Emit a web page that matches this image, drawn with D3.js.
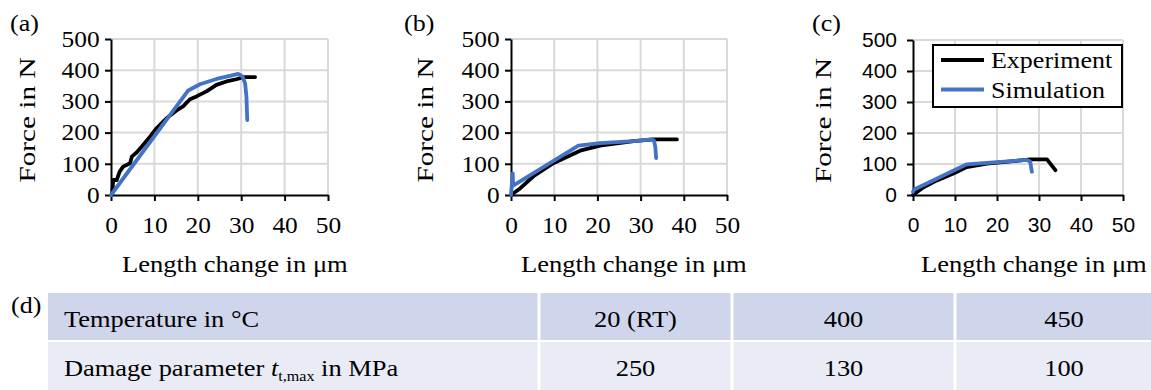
<!DOCTYPE html>
<html>
<head>
<meta charset="utf-8">
<script src="https://cdn.jsdelivr.net/npm/d3@7"></script>
<style>
  body { margin: 0; background: #fff; }
  svg { display: block; }
</style>
</head>
<body>
<svg id="chart" width="1151" height="390"></svg>
<script>
// ---- data (length change in µm, force in N) ----
const expA = [[0.3, 5], [0.5, 48], [1.3, 48], [2.0, 75], [2.8, 91], [4.4, 102], [4.8, 123], [5.9, 136],
  [7.4, 160], [9.0, 187], [10.5, 214], [12.8, 246], [15.1, 271], [16.6, 284], [18.2, 307], [19.7, 316],
  [22.0, 332], [24.3, 353], [26.6, 364], [28.9, 371], [30.5, 378], [33.2, 378]];
const simA = [[0, 0], [17.8, 335], [20.5, 355], [24.3, 372], [27.4, 382], [29.3, 388], [30.3, 380],
  [30.9, 358], [31.2, 316], [31.4, 240]];

const expB = [[0, 0], [2.1, 21], [5.2, 60], [9.8, 102], [16.0, 142], [20.6, 158], [28.4, 173],
  [33.0, 178], [38.4, 178]];
const simB = [[0, 0], [0.4, 69], [0.5, 30], [15.6, 158], [20.6, 166], [28.4, 173], [32.6, 178],
  [33.1, 174], [33.4, 155], [33.6, 118]];

const expC = [[0, 0], [2.5, 25], [5.7, 47], [9.6, 69], [12.8, 90], [17.6, 101], [24.0, 109],
  [27.9, 115], [31.9, 115], [33.9, 80]];
const simC = [[0, 10], [0.3, 18], [12.8, 99], [20.0, 106], [27.1, 113], [27.9, 108], [28.3, 75]];

const xTicks = [0, 10, 20, 30, 40, 50];
const yTicks = [0, 100, 200, 300, 400, 500];
const seriesNames = ["Experiment", "Simulation"];
const panelLetters = ["(a)", "(b)", "(c)", "(d)"];

const tableRowLabels = ["Temperature in \u00b0C", "Damage parameter"];
const temperatures = ["20 (RT)", "400", "450"];
const damageParams = ["250", "130", "100"];

// ---- styling ----
const BLACK = "#000000";
const BLUE = "#4472C4";
const GRID = "#d9d9d9";
const SERIF = "'Liberation Serif', 'Times New Roman', serif";
const SANS = "'Liberation Sans', Arial, sans-serif";
const SX = 1.13; // text in the figure is slightly wide

const svg = d3.select("#chart");

const panels = [
  { exp: expA, sim: simA, x0: 111, x1: 328, top: 39, bot: 195, tickFont: SERIF, letterX: 10, titleX: 26.5, xTitleX: 122 },
  { exp: expB, sim: simB, x0: 511, x1: 727, top: 39, bot: 195, tickFont: SERIF, letterX: 404, titleX: 425, xTitleX: 521 },
  { exp: expC, sim: simC, x0: 913, x1: 1123, top: 40, bot: 195, tickFont: SANS, letterX: 812, titleX: 823, xTitleX: 921 }
];

function stretchText(sel, x, y, rotate, sx) {
  sel.attr("transform", `translate(${x},${y})` + (rotate ? ` rotate(${rotate})` : "") + ` scale(${sx || SX},1)`);
}

panels.forEach((p, i) => {
  const x = d3.scaleLinear().domain([0, 50]).range([p.x0, p.x1]);
  const y = d3.scaleLinear().domain([0, 500]).range([p.bot, p.top]);
  const g = svg.append("g").attr("class", "panel");

  // grid
  g.append("g").selectAll("line.v")
    .data(xTicks.slice(1))
    .enter().append("line")
      .attr("x1", d => x(d)).attr("x2", d => x(d))
      .attr("y1", y(500)).attr("y2", y(0))
      .attr("stroke", GRID).attr("stroke-width", 2);
  g.append("g").selectAll("line.h")
    .data(yTicks.slice(1))
    .enter().append("line")
      .attr("x1", x(0)).attr("x2", x(50))
      .attr("y1", d => y(d)).attr("y2", d => y(d))
      .attr("stroke", GRID).attr("stroke-width", 2);

  // axes
  const xAxis = g.append("g")
    .attr("transform", `translate(0,${p.bot})`)
    .call(d3.axisBottom(x).tickValues(xTicks).tickSize(6).tickSizeOuter(0));
  const yAxis = g.append("g")
    .attr("transform", `translate(${p.x0},0)`)
    .call(d3.axisLeft(y).tickValues(yTicks).tickSize(6).tickSizeOuter(0));
  [xAxis, yAxis].forEach(ax => {
    ax.attr("font-family", null).attr("font-size", null);
    ax.select(".domain").attr("stroke", BLACK).attr("stroke-width", 2);
    ax.selectAll(".tick line").attr("stroke", BLACK).attr("stroke-width", 2);
    ax.selectAll(".tick text")
      .attr("fill", BLACK)
      .style("font-family", p.tickFont)
      .style("font-size", p.tickFont === SANS ? "21px" : "22.5px")
      .attr("transform", p.tickFont === SANS ? null : `scale(${SX},1)`);
  });
  xAxis.selectAll(".tick text").attr("dy", "0.71em").attr("y", 22);
  yAxis.selectAll(".tick text").attr("x", p.tickFont === SANS ? -16 : -10);

  // series lines
  const line = d3.line().x(d => x(d[0])).y(d => y(d[1]));
  [[p.exp, BLACK], [p.sim, BLUE]].forEach(([data, color]) => {
    g.append("path")
      .datum(data)
      .attr("d", line)
      .attr("fill", "none")
      .attr("stroke", color)
      .attr("stroke-width", 3.8)
      .attr("stroke-linejoin", "round")
      .attr("stroke-linecap", "round");
  });

  // titles
  g.append("text")
    .text("Length change in \u03bcm")
    .style("font-family", SERIF).style("font-size", "23.5px")
    .call(stretchText, p.xTitleX, 272);
  g.append("text")
    .text("Force in N")
    .style("font-family", SERIF).style("font-size", "24px")
    .attr("text-anchor", "middle").attr("dominant-baseline", "central")
    .call(stretchText, p.titleX, (p.top + p.bot) / 2 + 3, -90, 1.22);
  g.append("text")
    .text(panelLetters[i])
    .style("font-family", SERIF).style("font-size", "23px")
    .call(stretchText, p.letterX, 31);
});

// legend inside panel (c)
const legend = svg.append("g").attr("transform", "translate(933,45)");
legend.append("rect")
  .attr("width", 189).attr("height", 62)
  .attr("fill", "#fff").attr("stroke", BLACK).attr("stroke-width", 2);
seriesNames.forEach((name, i) => {
  const ly = 15 + i * 29.5;
  legend.append("line")
    .attr("x1", 8).attr("x2", 51).attr("y1", ly).attr("y2", ly)
    .attr("stroke", i === 0 ? BLACK : BLUE).attr("stroke-width", 3.8);
  legend.append("text")
    .text(name)
    .style("font-family", SERIF).style("font-size", "23px")
    .call(stretchText, 58, ly + 8);
});

// ---- table (d) ----
const colEdges = [48, 539, 732, 955, 1175];
const rowTops = [293, 342];
const rowH = [47, 48];
const rowFill = ["#CFD5EA", "#E9EBF5"];
const tbl = svg.append("g");
[temperatures, damageParams].forEach((vals, r) => {
  for (let c = 0; c < 4; c++) {
    tbl.append("rect")
      .attr("x", colEdges[c] + (c ? 1.5 : 0))
      .attr("y", rowTops[r])
      .attr("width", colEdges[c + 1] - colEdges[c] - (c ? 1.5 : 0) - 1.5)
      .attr("height", rowH[r])
      .attr("fill", rowFill[r]);
  }
  const base = rowTops[r] + 34;
  const lab = tbl.append("text")
    .style("font-family", SERIF).style("font-size", "23px")
    .call(stretchText, 64, base, 0, 1.15);
  lab.append("tspan").text(tableRowLabels[r]);
  if (r === 1) {
    lab.append("tspan").text(" ");
    lab.append("tspan").text("t").attr("font-style", "italic");
    lab.append("tspan").text("t,max").style("font-size", "14px").attr("dy", 5);
    lab.append("tspan").text(" in MPa").attr("dy", -5);
  }
  vals.forEach((v, c) => {
    const cx = c < 2 ? (colEdges[c + 1] + colEdges[c + 2]) / 2 : 1064;
    tbl.append("text")
      .text(v)
      .style("font-family", SERIF).style("font-size", "23px")
      .attr("text-anchor", "middle")
      .call(stretchText, cx, base, 0, 1.15);
  });
});
svg.append("text")
  .text(panelLetters[3])
  .style("font-family", SERIF).style("font-size", "23px")
  .call(stretchText, 11, 313);
</script>
</body>
</html>
